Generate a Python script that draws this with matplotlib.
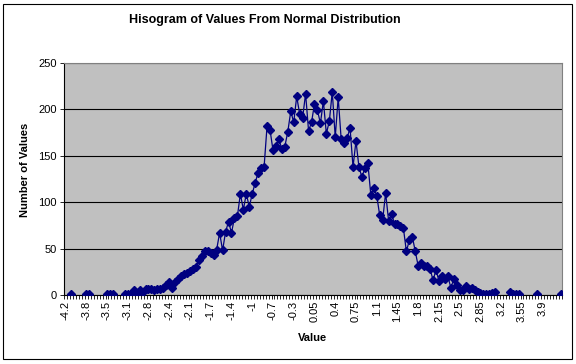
import numpy as np
import matplotlib
matplotlib.use('Agg')
import matplotlib.pyplot as plt
from matplotlib.patches import Rectangle

nan = np.nan

# histogram counts, one per bin (bin width 0.05, first bin -4.2); nan = empty cell
counts = [
    nan, nan, 1, nan, nan, nan, nan, 1, 1, nan,
    nan, nan, nan, nan, 1, 1, 1, nan, nan, nan,
    1, 1, 1, 5, 1, 5, 3, 7, 6, 6,
    5, 7, 7, 8, 11, 14, 8, 14, 17, 20,
    23, 24, 26, 28, 30, 38, 42, 47, 47, 45,
    43, 49, 67, 48, 68, 79, 67, 83, 85, 109,
    92, 109, 95, 109, 121, 132, 137, 138, 182, 178,
    156, 161, 168, 157, 160, 176, 198, 186, 214, 195,
    191, 217, 177, 186, 206, 199, 185, 209, 174, 187,
    219, 170, 213, 168, 164, 169, 180, 138, 166, 138,
    127, 137, 142, 108, 115, 107, 86, 81, 110, 80,
    87, 77, 77, 74, 72, 47, 59, 63, 47, 31,
    35, 31, 31, 28, 16, 27, 15, 21, 17, 20,
    8, 17, 11, 5, 5, 10, 7, 8, 5, 3,
    2, 1, 1, 1, 2, 3, nan, nan, nan, nan,
    3, 1, 1, 1, nan, nan, nan, nan, nan, 1,
    nan, nan, nan, nan, nan, nan, nan, 1,
]

tick_labels = ['-4.2', '-3.8', '-3.5', '-3.1', '-2.8', '-2.4', '-2.1', '-1.7',
               '-1.4', '-1', '-0.7', '-0.3', '0.05', '0.4', '0.75', '1.1',
               '1.45', '1.8', '2.15', '2.5', '2.85', '3.2', '3.55', '3.9']
label_step = 7

plt.rcParams['font.family'] = ['Liberation Sans', 'DejaVu Sans']

W, H = 576, 364
fig = plt.figure(figsize=(W / 100, H / 100), dpi=100)

# plot area in pixel coords: left 64, right 562, top 63, bottom 295
ax = fig.add_axes([64 / W, 1 - 295 / H, 498 / W, 232 / H])
ax.set_facecolor('#c0c0c0')

x = np.arange(len(counts))
ax.plot(x, counts, color='#000080', lw=0.9, marker='D', ms=4,
        mfc='#000080', mec='#000080', zorder=3)

ax.set_xlim(-0.5, len(counts) - 0.5)
ax.set_ylim(0, 250)
ax.set_yticks(range(0, 251, 50))
ax.yaxis.grid(True, color='black', lw=0.8)
ax.set_axisbelow(True)

ax.set_xticks(np.arange(0, len(counts), label_step))
ax.set_xticklabels(tick_labels, rotation=90)
ax.set_xticks(np.arange(-0.5, len(counts)), minor=True)
ax.tick_params(axis='x', which='major', length=0, pad=4, labelsize=8)
ax.tick_params(axis='x', which='minor', length=3, color='black', width=0.6)
ax.tick_params(axis='y', length=3, color='black', width=0.6, labelsize=8, pad=2)

for s in ['left', 'bottom']:
    ax.spines[s].set_color('black')
    ax.spines[s].set_linewidth(0.8)
for s in ['top', 'right']:
    ax.spines[s].set_color('#808080')
    ax.spines[s].set_linewidth(0.8)

fig.text(265 / W, 1 - 20 / H, 'Hisogram of Values From Normal Distribution',
         ha='center', va='center', fontsize=9, fontweight='bold')
fig.text(25 / W, 1 - 170 / H, 'Number of Values', rotation=90,
         ha='center', va='center', fontsize=8, fontweight='bold')
fig.text(312 / W, 1 - 338 / H, 'Value', ha='center', va='center',
         fontsize=8, fontweight='bold')

# chart border
fig.patches.append(Rectangle((3 / W, 1 - 359 / H), 569 / W, 355 / H,
                             transform=fig.transFigure, fill=False,
                             edgecolor='black', lw=0.8))

fig.savefig('out.png', dpi=100)
